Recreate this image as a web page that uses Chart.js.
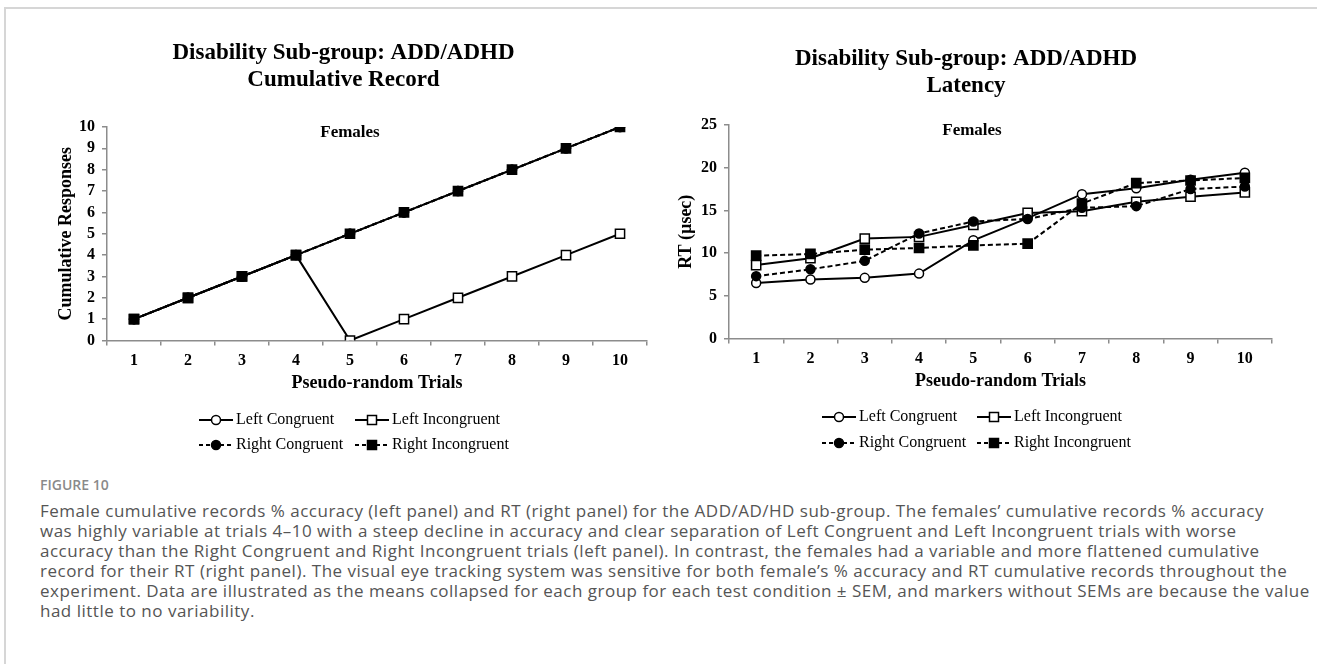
<!DOCTYPE html>
<html>
<head>
<meta charset="utf-8">
<script src="https://cdn.jsdelivr.net/npm/chart.js@4.4.1/dist/chart.umd.min.js"></script>
<style>
  html, body { margin: 0; padding: 0; background: #fff; }
  body { width: 1317px; height: 664px; position: relative; overflow: hidden; }
  #frame { position: absolute; left: 4px; top: 7px; width: 1400px; height: 700px; border: 2px solid #d6d6d6; box-sizing: border-box; }
  .panel { position: absolute; top: 20px; }
  #left { left: 40px; }
  #right { left: 660px; }
  #caption { position: absolute; left: 40px; top: 475px; font-family: 'Open Sans', sans-serif; color: #555; font-size: 17px; letter-spacing: 0.5px; line-height: 20px; white-space: nowrap; }
  #caption .fig { color: #8a8a8a; font-weight: 600; font-size: 14px; letter-spacing: 0; margin-bottom: 6px; }
</style>
</head>
<body>
<div id="frame"></div>
<canvas id="left" class="panel" width="624" height="450"></canvas>
<canvas id="right" class="panel" width="620" height="450"></canvas>
<div id="caption">
  <div class="fig">FIGURE 10</div>
  Female cumulative records % accuracy (left panel) and RT (right panel) for the ADD/AD/HD sub-group. The females’ cumulative records % accuracy<br>
  was highly variable at trials 4–10 with a steep decline in accuracy and clear separation of Left Congruent and Left Incongruent trials with worse<br>
  accuracy than the Right Congruent and Right Incongruent trials (left panel). In contrast, the females had a variable and more flattened cumulative<br>
  record for their RT (right panel). The visual eye tracking system was sensitive for both female’s % accuracy and RT cumulative records throughout the<br>
  experiment. Data are illustrated as the means collapsed for each group for each test condition ± SEM, and markers without SEMs are because the value<br>
  had little to no variability.
</div>
<script>
// chart data
const trials = ['1', '2', '3', '4', '5', '6', '7', '8', '9', '10'];
const seriesNames = ['Left Congruent', 'Left Incongruent', 'Right Congruent', 'Right Incongruent'];

// left panel: cumulative record
const cumLeftCongruent = [1, 2, 3, 4, 5, 6, 7, 8, 9, 10];
const cumLeftIncongruent = [1, 2, 3, 4, 0, 1, 2, 3, 4, 5];
const cumRightCongruent = [1, 2, 3, 4, 5, 6, 7, 8, 9, 10];
const cumRightIncongruent = [1, 2, 3, 4, 5, 6, 7, 8, 9, 10];
const cumTicks = [0, 1, 2, 3, 4, 5, 6, 7, 8, 9, 10];

// right panel: latency
const rtLeftCongruent = [6.5, 6.9, 7.1, 7.6, 11.5, 14.1, 16.9, 17.6, 18.6, 19.4];
const rtLeftIncongruent = [8.6, 9.4, 11.7, 11.9, 13.3, 14.7, 14.9, 16.0, 16.6, 17.1];
const rtRightCongruent = [7.3, 8.1, 9.1, 12.3, 13.7, 14.0, 15.3, 15.5, 17.5, 17.8];
const rtRightIncongruent = [9.7, 9.9, 10.4, 10.6, 10.9, 11.1, 15.8, 18.2, 18.5, 18.8];
const rtTicks = [0, 5, 10, 15, 20, 25];

const SERIF = "'Liberation Serif', 'Times New Roman', serif";
Chart.defaults.font.family = SERIF;
Chart.defaults.color = '#000';

function makeSets(values) {
  return seriesNames.map((name, i) => ({
    label: name,
    data: values[i],
    borderColor: '#000',
    borderWidth: 2,
    borderDash: i >= 2 ? [5, 3] : [],
    pointStyle: i % 2 === 0 ? 'circle' : 'rect',
    pointRadius: i % 2 === 0 ? 4.5 : 6.5,
    pointHoverRadius: i % 2 === 0 ? 4.5 : 6.5,
    pointBackgroundColor: i >= 2 ? '#000' : '#fff',
    pointBorderColor: '#000',
    pointBorderWidth: 1.5,
    tension: 0,
    order: 4 - i
  }));
}

// "Females" label inside the plot
const insideLabel = {
  id: 'insideLabel',
  afterDraw(chart, args, opts) {
    const ctx = chart.ctx;
    ctx.save();
    ctx.font = 'bold 17px ' + SERIF;
    ctx.fillStyle = '#000';
    ctx.textAlign = 'center';
    ctx.textBaseline = 'middle';
    ctx.fillText(opts.text, chart.width / 2 + opts.dx, chart.chartArea.top + opts.dy);
    ctx.restore();
  }
};

// two-column legend with line + marker samples
const pairLegend = {
  id: 'pairLegend',
  afterDraw(chart, args, opts) {
    const ctx = chart.ctx;
    const cx = chart.width / 2;
    chart.data.datasets.forEach((ds, i) => {
      const x = cx + opts.start + (i % 2) * opts.colGap;
      const y = opts.top + Math.floor(i / 2) * opts.rowGap;
      ctx.save();
      ctx.strokeStyle = '#000';
      ctx.lineWidth = 2;
      ctx.setLineDash(i >= 2 ? [4, 3] : []);
      ctx.beginPath();
      ctx.moveTo(x, y);
      ctx.lineTo(x + 34, y);
      ctx.stroke();
      ctx.setLineDash([]);
      ctx.lineWidth = 1.5;
      ctx.fillStyle = ds.pointBackgroundColor;
      ctx.beginPath();
      if (ds.pointStyle === 'circle') {
        ctx.arc(x + 17, y, 4.5, 0, Math.PI * 2);
      } else {
        ctx.rect(x + 12.5, y - 4.5, 9, 9);
      }
      ctx.fill();
      ctx.stroke();
      ctx.fillStyle = '#000';
      ctx.font = '16px ' + SERIF;
      ctx.textAlign = 'left';
      ctx.textBaseline = 'middle';
      ctx.fillText(ds.label, x + 37, y);
      ctx.restore();
    });
  }
};

function makeChart(id, opts) {
  const ticks = opts.ticks;
  return new Chart(document.getElementById(id), {
    type: 'line',
    data: { labels: trials, datasets: makeSets(opts.values) },
    plugins: [insideLabel, pairLegend],
    options: {
      responsive: false,
      animation: false,
      events: [],
      layout: { padding: { left: 0, right: opts.padRight, top: 0, bottom: opts.padBottom } },
      plugins: {
        legend: { display: false },
        tooltip: { enabled: false },
        title: {
          display: true,
          text: opts.title,
          font: { size: 23, weight: 'bold', lineHeight: 1.174 },
          color: '#000',
          padding: { top: opts.titleTop, bottom: opts.titleBottom }
        },
        insideLabel: { text: 'Females', dx: opts.femDx, dy: 6 },
        pairLegend: opts.legend
      },
      scales: {
        x: {
          offset: true,
          afterFit: s => { s.height = 60; },
          grid: { offset: true, drawOnChartArea: false, drawTicks: true, tickLength: 5, color: '#8c8c8c', lineWidth: 1.5 },
          border: { color: '#8c8c8c', width: 1.5 },
          ticks: { font: { size: 16, weight: 'bold' }, padding: 6, color: '#000', maxRotation: 0, autoSkip: false },
          title: { display: true, text: 'Pseudo-random Trials', font: { size: 18, weight: 'bold' }, color: '#000', padding: { top: 0, bottom: 6 } }
        },
        y: {
          min: ticks[0],
          max: ticks[ticks.length - 1],
          afterFit: s => { s.width = opts.yWidth; },
          afterBuildTicks: s => { s.ticks = ticks.map(v => ({ value: v })); },
          grid: { drawOnChartArea: false, drawTicks: true, tickLength: 5, color: '#8c8c8c', lineWidth: 1.5 },
          border: { color: '#8c8c8c', width: 1.5 },
          ticks: { autoSkip: false, font: { size: 16, weight: 'bold' }, padding: 7, color: '#000' },
          title: { display: true, text: opts.yTitle, font: { size: 18, weight: 'bold' }, color: '#000', padding: { top: 16, bottom: 0 } }
        }
      }
    }
  });
}

makeChart('left', {
  values: [cumLeftCongruent, cumLeftIncongruent, cumRightCongruent, cumRightIncongruent],
  ticks: cumTicks,
  title: ['Disability Sub-group: ADD/ADHD', 'Cumulative Record'],
  yTitle: 'Cumulative Responses',
  yWidth: 67,
  padRight: 17,
  padBottom: 69.5,
  titleTop: 19.5,
  titleBottom: 33.5,
  femDx: -2,
  legend: { start: -153, colGap: 156, top: 400, rowGap: 25 }
});

makeChart('right', {
  values: [rtLeftCongruent, rtLeftIncongruent, rtRightCongruent, rtRightIncongruent],
  ticks: rtTicks,
  title: ['Disability Sub-group: ADD/ADHD', 'Latency'],
  yTitle: 'RT (µsec)',
  yWidth: 69,
  padRight: 8,
  padBottom: 71.5,
  titleTop: 25.5,
  titleBottom: 25.5,
  femDx: 2,
  legend: { start: -148, colGap: 155, top: 397, rowGap: 26 }
});
</script>
</body>
</html>
